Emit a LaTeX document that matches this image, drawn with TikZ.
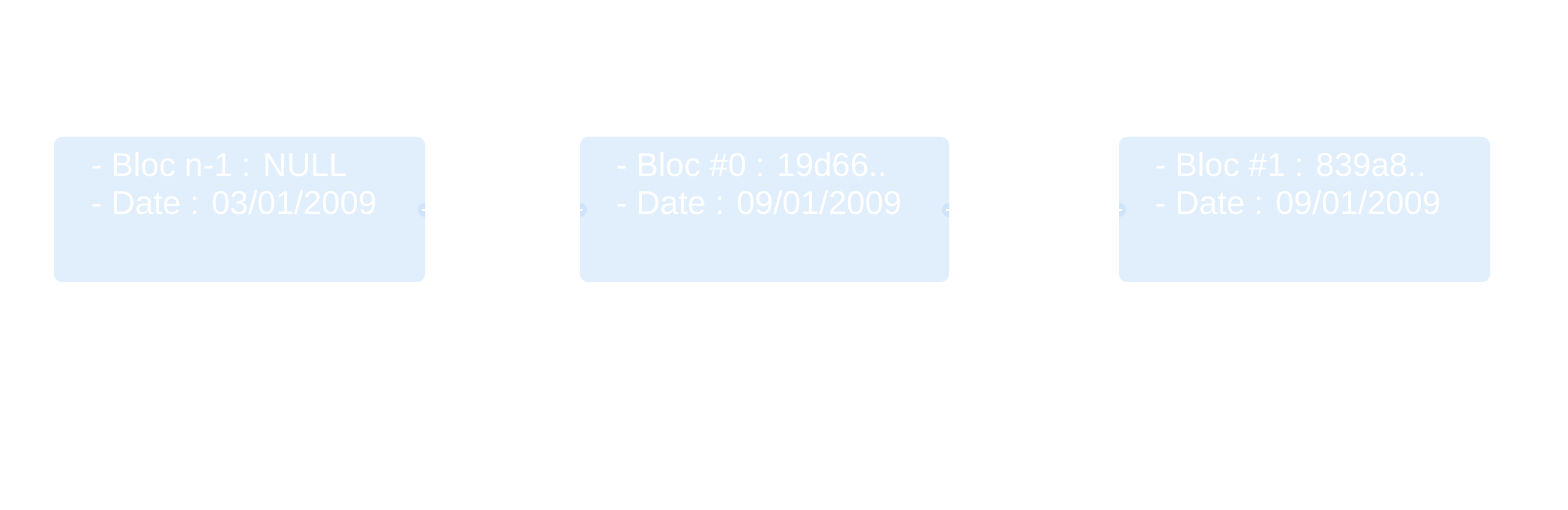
\documentclass[tikz,border=0pt]{standalone}
\usepackage{fontspec}
\setmainfont{Liberation Sans}
\definecolor{boxfill}{HTML}{E1EFFD}
\definecolor{portfill}{HTML}{CFE4FB}
\begin{document}
\begin{tikzpicture}[x=1pt,y=-1pt,
  blk/.style={fill=boxfill, rounded corners=8pt},
  txt/.style={anchor=base west, text=white, font=\fontsize{33}{38}\selectfont, inner sep=0pt},
  port/.style={fill=portfill},
  link/.style={draw=white, line width=1.5pt}]
\useasboundingbox[fill=white] (0,0) rectangle (1568,510);
% boxes
\fill[blk] (54,137) rectangle (425,282);
\fill[blk] (580,137) rectangle (949,282);
\fill[blk] (1119,137) rectangle (1490,282);
% ports (visible inside boxes only)
\coordinate (p1) at (425,210);
\coordinate (p2) at (580,210);
\coordinate (p3) at (949,210);
\coordinate (p4) at (1119,210);
\fill[port] (425,217) arc[start angle=90,end angle=270,radius=7] -- cycle;
\fill[port] (580,217) arc[start angle=90,end angle=-90,radius=7] -- cycle;
\fill[port] (949,217) arc[start angle=90,end angle=270,radius=7] -- cycle;
\fill[port] (1119,217) arc[start angle=90,end angle=-90,radius=7] -- cycle;
% connectors (white)
\draw[link] ([xshift=-3pt]p1) -- ([xshift=3pt]p2);
\draw[link] ([xshift=-3pt]p3) -- ([xshift=3pt]p4);
% texts
\node[txt] (t1a) at (91,177) {- Bloc n-1 : NULL};
\node[txt] (t1b) at (91,215) {- Date : 03/01/2009};
\node[txt] (t2a) at (616,177) {- Bloc \#0 : 19d66..};
\node[txt] (t2b) at (616,215) {- Date : 09/01/2009};
\node[txt] (t3a) at (1155,177) {- Bloc \#1 : 839a8..};
\node[txt] (t3b) at (1155,215) {- Date : 09/01/2009};
\end{tikzpicture}
\end{document}
